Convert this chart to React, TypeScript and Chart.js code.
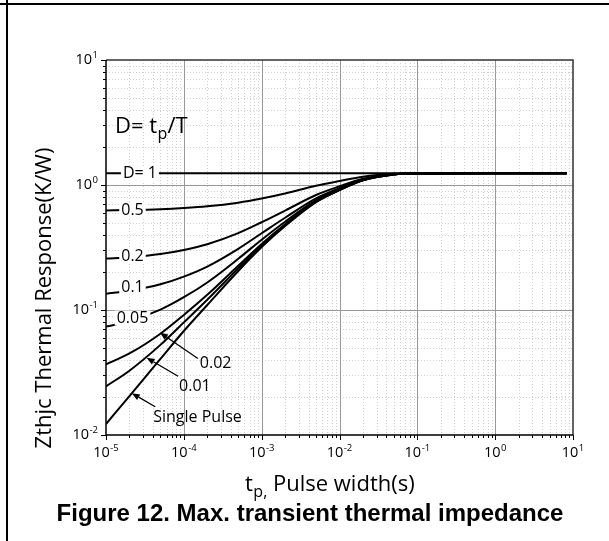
import { useEffect, useRef } from 'react';
import { Chart, registerables } from 'chart.js';

Chart.register(...registerables);

// Pulse width tp (s)
const pulseWidth = [1e-5, 2e-5, 5e-5, 1e-4, 2e-4, 5e-4, 1e-3, 2e-3, 5e-3, 1e-2, 2e-2, 5e-2, 1e-1, 1, 8.3];

// Zthjc (K/W) for each duty cycle
const zthD1 = [1.24, 1.24, 1.24, 1.24, 1.24, 1.24, 1.24, 1.24, 1.24, 1.24, 1.24, 1.24, 1.24, 1.24, 1.24];
const zthD05 = [0.6261, 0.6303, 0.6403, 0.654, 0.6748, 0.7226, 0.7796, 0.855, 0.985, 1.075, 1.165, 1.2275, 1.238, 1.24, 1.24];
const zthD02 = [0.2578, 0.2644, 0.2805, 0.3023, 0.3357, 0.4121, 0.5034, 0.624, 0.832, 0.976, 1.12, 1.22, 1.2368, 1.24, 1.24];
const zthD01 = [0.135, 0.1425, 0.1605, 0.1851, 0.2226, 0.3086, 0.4113, 0.547, 0.781, 0.943, 1.105, 1.2175, 1.2364, 1.24, 1.24];
const zthD005 = [0.0736, 0.0815, 0.1006, 0.1265, 0.1661, 0.2568, 0.3652, 0.5085, 0.7555, 0.9265, 1.0975, 1.2163, 1.2362, 1.24, 1.24];
const zthD002 = [0.0368, 0.0449, 0.0646, 0.0913, 0.1322, 0.2258, 0.3376, 0.4854, 0.7402, 0.9166, 1.093, 1.2155, 1.2361, 1.24, 1.24];
const zthD001 = [0.0245, 0.0327, 0.0526, 0.0796, 0.1209, 0.2154, 0.3284, 0.4777, 0.7351, 0.9133, 1.0915, 1.2153, 1.236, 1.24, 1.24];
const zthSingle = [0.01225, 0.0205, 0.0406, 0.0679, 0.1096, 0.2051, 0.3192, 0.47, 0.73, 0.91, 1.09, 1.215, 1.236, 1.24, 1.24];

const seriesNames = ['D=1', 'D=0.5', 'D=0.2', 'D=0.1', 'D=0.05', 'D=0.02', 'D=0.01', 'Single Pulse'];
const seriesValues = [zthD1, zthD05, zthD02, zthD01, zthD005, zthD002, zthD001, zthSingle];

// axis decades (exponents of 10)
const xDecades = [-5, -4, -3, -2, -1, 0, 1];
const yDecades = [-2, -1, 0, 1];

// in-line curve labels (data coordinates)
const lineLabels = [
  { text: 'D= 1', x: 2.73e-5, y: 1.24 },
  { text: '0.5', x: 2.19e-5, y: 0.631 },
  { text: '0.2', x: 2.19e-5, y: 0.2704 },
  { text: '0.1', x: 2.19e-5, y: 0.1528 },
  { text: '0.05', x: 2.19e-5, y: 0.0863 },
];

// arrow callouts: tip on curve (data coords), tail & text offsets in px
const arrowNotes = [
  { text: '0.02', x: 4.92e-5, y: 0.066, tail: [38, 26], label: [40, 30] },
  { text: '0.01', x: 3.32e-5, y: 0.0415, tail: [31.5, 18.5], label: [32.5, 28] },
  { text: 'Single Pulse', x: 2.14e-5, y: 0.0216, tail: [23.5, 13.5], label: [21.5, 24] },
];

const FONT = '"Open Sans", "Noto Sans", sans-serif';

function drawPow(ctx: CanvasRenderingContext2D, exp: number, x: number, baseY: number, align: 'center' | 'right') {
  const base = '10';
  const e = String(exp);
  ctx.font = `14.5px ${FONT}`;
  const wb = ctx.measureText(base).width;
  ctx.font = `9.5px ${FONT}`;
  const we = ctx.measureText(e).width;
  const total = wb + we + 0.5;
  const x0 = align === 'center' ? x - total / 2 : x - total;
  ctx.textAlign = 'left';
  ctx.textBaseline = 'alphabetic';
  ctx.font = `14.5px ${FONT}`;
  ctx.fillText(base, x0, baseY);
  ctx.font = `9.5px ${FONT}`;
  ctx.fillText(e, x0 + wb + 0.5, baseY - 6);
}

const framePlugin = {
  id: 'frame',
  beforeDatasetsDraw(chart: any) {
    const { ctx, chartArea: a } = chart;
    const xs = chart.scales.x;
    const ys = chart.scales.y;
    ctx.save();
    ctx.lineWidth = 1;
    // minor grid
    ctx.strokeStyle = '#d0d0d0';
    ctx.setLineDash([1, 2]);
    for (const d of xDecades.slice(0, -1)) {
      for (let m = 2; m <= 9; m++) {
        const px = Math.round(xs.getPixelForValue(m * Math.pow(10, d))) + 0.5;
        ctx.beginPath(); ctx.moveTo(px, a.top); ctx.lineTo(px, a.bottom); ctx.stroke();
      }
    }
    for (const d of yDecades.slice(0, -1)) {
      for (let m = 2; m <= 9; m++) {
        const py = Math.round(ys.getPixelForValue(m * Math.pow(10, d))) + 0.5;
        ctx.beginPath(); ctx.moveTo(a.left, py); ctx.lineTo(a.right, py); ctx.stroke();
      }
    }
    // major grid
    ctx.setLineDash([]);
    ctx.strokeStyle = '#999999';
    for (const d of xDecades.slice(1, -1)) {
      const px = Math.round(xs.getPixelForValue(Math.pow(10, d))) + 0.5;
      ctx.beginPath(); ctx.moveTo(px, a.top); ctx.lineTo(px, a.bottom); ctx.stroke();
    }
    for (const d of yDecades.slice(1, -1)) {
      const py = Math.round(ys.getPixelForValue(Math.pow(10, d))) + 0.5;
      ctx.beginPath(); ctx.moveTo(a.left, py); ctx.lineTo(a.right, py); ctx.stroke();
    }
    ctx.restore();
  },
  afterDatasetsDraw(chart: any) {
    const { ctx } = chart;
    const xs = chart.scales.x;
    const ys = chart.scales.y;
    ctx.save();
    // in-line labels
    ctx.font = `16px ${FONT}`;
    ctx.textAlign = 'center';
    ctx.textBaseline = 'middle';
    for (const l of lineLabels) {
      const cx = xs.getPixelForValue(l.x);
      const cy = ys.getPixelForValue(l.y);
      const w = ctx.measureText(l.text).width;
      ctx.fillStyle = '#ffffff';
      ctx.fillRect(cx - w / 2 - 2, cy - 7.5, w + 4, 15);
      ctx.fillStyle = '#000000';
      ctx.fillText(l.text, cx, cy + 0.5);
    }
    // arrow callouts
    ctx.strokeStyle = '#000';
    ctx.fillStyle = '#000';
    ctx.lineWidth = 1.3;
    ctx.textAlign = 'left';
    for (const n of arrowNotes) {
      const tx = xs.getPixelForValue(n.x);
      const ty = ys.getPixelForValue(n.y);
      const sx = tx + n.tail[0];
      const sy = ty + n.tail[1];
      const ang = Math.atan2(ty - sy, tx - sx);
      const L = 8, W = 3.2;
      const bx = tx - L * Math.cos(ang);
      const by = ty - L * Math.sin(ang);
      ctx.beginPath(); ctx.moveTo(sx, sy); ctx.lineTo(bx, by); ctx.stroke();
      ctx.beginPath();
      ctx.moveTo(tx, ty);
      ctx.lineTo(bx - W * Math.sin(ang), by + W * Math.cos(ang));
      ctx.lineTo(bx + W * Math.sin(ang), by - W * Math.cos(ang));
      ctx.closePath(); ctx.fill();
      ctx.fillText(n.text, tx + n.label[0], ty + n.label[1] + 0.5);
    }
    ctx.restore();
  },
  afterDraw(chart: any) {
    const { ctx, chartArea: a } = chart;
    const xs = chart.scales.x;
    const ys = chart.scales.y;
    ctx.save();
    // plot frame
    ctx.lineWidth = 1.5;
    ctx.strokeStyle = '#333333';
    ctx.beginPath(); ctx.moveTo(a.left, a.top); ctx.lineTo(a.right, a.top); ctx.lineTo(a.right, a.bottom); ctx.stroke();
    ctx.strokeStyle = '#000000';
    ctx.beginPath(); ctx.moveTo(a.left, a.top); ctx.lineTo(a.left, a.bottom); ctx.lineTo(a.right, a.bottom); ctx.stroke();
    // ticks
    ctx.lineWidth = 1;
    for (let i = 0; i < xDecades.length; i++) {
      const d = xDecades[i];
      const px = Math.round(xs.getPixelForValue(Math.pow(10, d))) + 0.5;
      ctx.beginPath(); ctx.moveTo(px, a.bottom); ctx.lineTo(px, a.bottom + 5); ctx.stroke();
      if (i < xDecades.length - 1) {
        for (let m = 2; m <= 9; m++) {
          const q = Math.round(xs.getPixelForValue(m * Math.pow(10, d))) + 0.5;
          ctx.beginPath(); ctx.moveTo(q, a.bottom); ctx.lineTo(q, a.bottom + 3); ctx.stroke();
        }
      }
    }
    for (let i = 0; i < yDecades.length; i++) {
      const d = yDecades[i];
      const py = Math.round(ys.getPixelForValue(Math.pow(10, d))) + 0.5;
      ctx.beginPath(); ctx.moveTo(a.left, py); ctx.lineTo(a.left - 5, py); ctx.stroke();
      if (i < yDecades.length - 1) {
        for (let m = 2; m <= 9; m++) {
          const q = Math.round(ys.getPixelForValue(m * Math.pow(10, d))) + 0.5;
          ctx.beginPath(); ctx.moveTo(a.left, q); ctx.lineTo(a.left - 3, q); ctx.stroke();
        }
      }
    }
    // tick labels
    ctx.fillStyle = '#000';
    for (const d of xDecades) drawPow(ctx, d, xs.getPixelForValue(Math.pow(10, d)), a.bottom + 22, 'center');
    for (const d of yDecades) drawPow(ctx, d, a.left - 8, ys.getPixelForValue(Math.pow(10, d)) + 4, 'right');

    // x axis title: t_p, Pulse width(s)
    ctx.textAlign = 'left';
    ctx.textBaseline = 'alphabetic';
    let cx = 245;
    ctx.font = `22px ${FONT}`;
    ctx.fillText('t', cx, 491);
    cx += ctx.measureText('t').width + 0.5;
    ctx.font = `16px ${FONT}`;
    ctx.fillText('p,', cx, 497);
    cx += ctx.measureText('p,').width;
    ctx.font = `22px ${FONT}`;
    cx += ctx.measureText(' ').width;
    ctx.fillText('Pulse width(s)', cx, 491);

    // y axis title
    ctx.save();
    ctx.translate(51, 298);
    ctx.rotate(-Math.PI / 2);
    ctx.textAlign = 'center';
    ctx.font = `22px ${FONT}`;
    ctx.fillText('Zthjc Thermal Response(K/W)', 0, 0);
    ctx.restore();

    // D = tp/T
    let dx = 115;
    ctx.textAlign = 'left';
    ctx.font = `22px ${FONT}`;
    ctx.fillText('D= t', dx, 133);
    dx += ctx.measureText('D= t').width + 0.5;
    ctx.font = `16px ${FONT}`;
    ctx.fillText('p', dx, 139);
    dx += ctx.measureText('p').width;
    ctx.font = `22px ${FONT}`;
    ctx.fillText('/T', dx, 133);

    // caption
    ctx.textAlign = 'center';
    ctx.font = 'bold 24px "Liberation Sans", Arial, sans-serif';
    ctx.fillText('Figure 12. Max. transient thermal impedance', 310, 521);

    // page frame lines
    ctx.fillStyle = '#000';
    ctx.fillRect(0, 3, chart.width, 2);
    ctx.fillRect(6, 0, 2, chart.height);
    ctx.restore();
  },
};

export default function App() {
  const ref = useRef<HTMLCanvasElement | null>(null);
  useEffect(() => {
    if (!ref.current) return;
    const chart = new Chart(ref.current, {
      type: 'line',
      data: {
        datasets: seriesValues.map((vals, k) => ({
          label: seriesNames[k],
          data: pulseWidth.map((t, i) => ({ x: t, y: vals[i] })),
          borderColor: '#000000',
          borderWidth: 2,
          pointRadius: 0,
          fill: false,
          cubicInterpolationMode: 'monotone' as const,
        })),
      },
      options: {
        responsive: false,
        animation: false,
        events: [],
        layout: { padding: { left: 106, right: 36, top: 60, bottom: 106 } },
        plugins: { legend: { display: false }, tooltip: { enabled: false }, title: { display: false } },
        scales: {
          x: { type: 'logarithmic', min: 1e-5, max: 10, display: false },
          y: { type: 'logarithmic', min: 0.01, max: 10, display: false },
        },
      },
      plugins: [framePlugin],
    });
    return () => chart.destroy();
  }, []);
  return (
    <div style={{ position: 'absolute', left: 0, top: 0, width: 609, height: 541, background: '#fff' }}>
      <canvas ref={ref} width={609} height={541} style={{ width: 609, height: 541, display: 'block' }} />
    </div>
  );
}
